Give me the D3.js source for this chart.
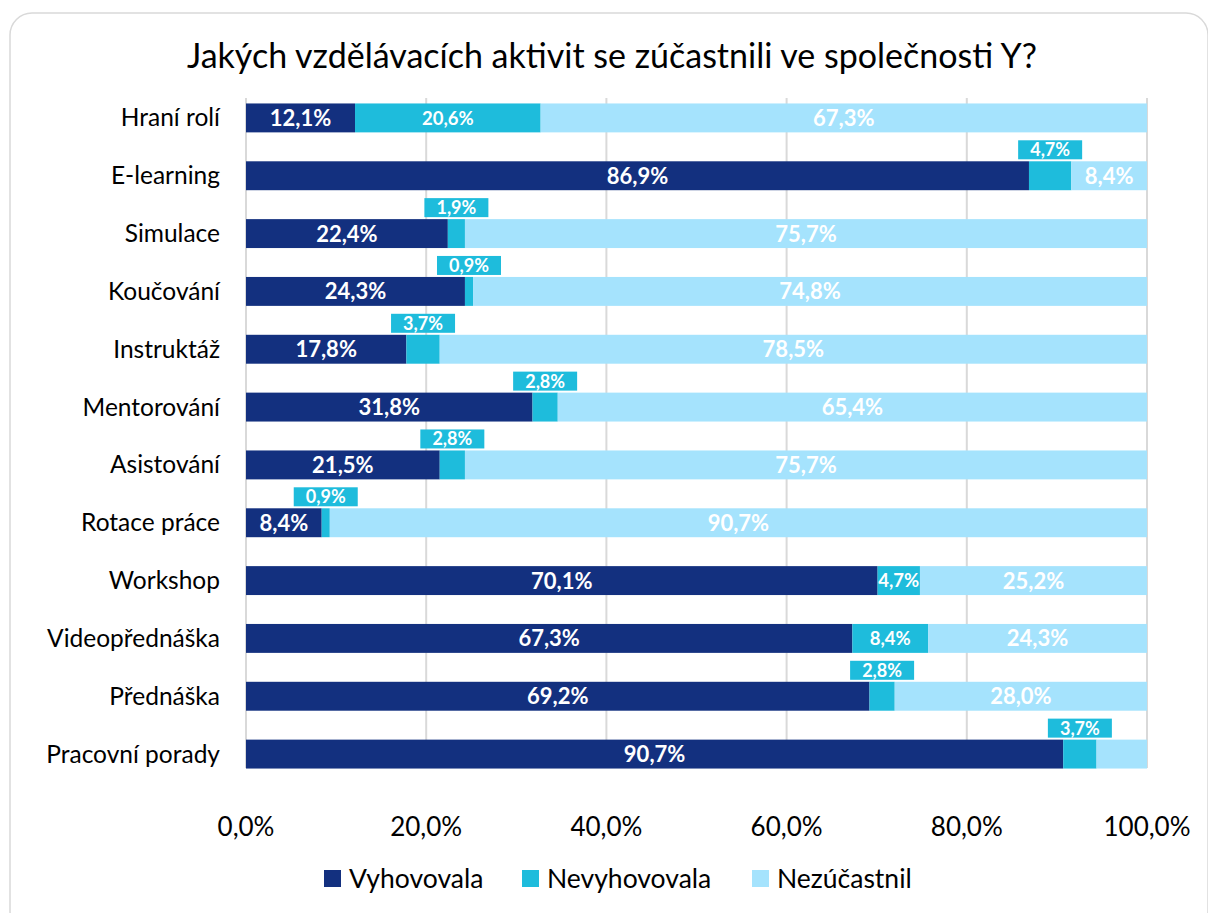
<!DOCTYPE html>
<html>
<head>
<meta charset="utf-8">
<script src="https://cdn.jsdelivr.net/npm/d3@7"></script>
<style>
  body { margin: 0; background: #fff; }
  svg { font-family: Lato, "Open Sans", sans-serif; }
</style>
</head>
<body>
<svg id="chart" width="1208" height="913"></svg>
<script>
// data
const categories = ["Hraní rolí", "E-learning", "Simulace", "Koučování", "Instruktáž", "Mentorování",
  "Asistování", "Rotace práce", "Workshop", "Videopřednáška", "Přednáška", "Pracovní porady"];
const vyhovovala   = [12.1, 86.9, 22.4, 24.3, 17.8, 31.8, 21.5, 8.4, 70.1, 67.3, 69.2, 90.7];
const nevyhovovala = [20.6, 4.7, 1.9, 0.9, 3.7, 2.8, 2.8, 0.9, 4.7, 8.4, 2.8, 3.7];
const nezucastnil  = [67.3, 8.4, 75.7, 74.8, 78.5, 65.4, 75.7, 90.7, 25.2, 24.3, 28.0, 5.6];
// rows where the Nevyhovovala label sits in a box above the bar
const calloutRows = ["E-learning", "Simulace", "Koučování", "Instruktáž", "Mentorování",
  "Asistování", "Rotace práce", "Přednáška", "Pracovní porady"];
// rows where the Nezúčastnil value is not labelled
const hiddenLight = ["Pracovní porady"];
const xTicks = [0, 20, 40, 60, 80, 100];
const seriesNames = ["Vyhovovala", "Nevyhovovala", "Nezúčastnil"];
const colors = ["#13307f", "#1ebcdc", "#a5e3fd"];

const svg = d3.select("#chart");
const W = 1208, H = 913;
const margin = {left: 246, right: 61};

svg.append("rect")
  .attr("x", 10).attr("y", 13)
  .attr("width", W - 10).attr("height", H - 13 + 20)
  .attr("rx", 22)
  .attr("fill", "#fff")
  .attr("stroke", "#d9d9d9").attr("stroke-width", 1.5);

svg.append("text")
  .attr("x", 612).attr("y", 68)
  .attr("text-anchor", "middle")
  .attr("font-size", 34)
  .attr("fill", "#000")
  .text("Jakých vzdělávacích aktivit se zúčastnili ve společnosti Y?");

const x = d3.scaleLinear().domain([0, 100]).range([margin.left, W - margin.right]);
const y = d3.scaleBand().domain(categories)
  .range([89, 783]).paddingInner(0.5).paddingOuter(0.25);

const fmt = v => d3.format(".1f")(v).replace(".", ",") + "%";

// grid lines
svg.append("g").selectAll("line").data(xTicks).join("line")
  .attr("x1", d => x(d)).attr("x2", d => x(d))
  .attr("y1", 98).attr("y2", 768)
  .attr("stroke", "#d9d9d9").attr("stroke-width", 2);

// axis labels
svg.append("g").selectAll("text").data(xTicks).join("text")
  .attr("x", d => x(d)).attr("y", 836)
  .attr("text-anchor", "middle")
  .attr("font-size", 26)
  .attr("fill", "#000")
  .text(d => fmt(d));

const stackData = categories.map((c, i) => ({cat: c, s0: vyhovovala[i], s1: nevyhovovala[i], s2: nezucastnil[i]}));
const stack = d3.stack().keys(["s0", "s1", "s2"])(stackData);

const layers = svg.append("g").selectAll("g").data(stack).join("g")
  .attr("fill", (d, i) => colors[i]);

layers.selectAll("rect").data(d => d).join("rect")
  .attr("x", d => x(d[0]))
  .attr("y", d => y(d.data.cat))
  .attr("width", d => x(d[1]) - x(d[0]))
  .attr("height", y.bandwidth());

// category labels
svg.append("g").selectAll("text").data(categories).join("text")
  .attr("x", 220)
  .attr("y", d => y(d) + y.bandwidth() / 2)
  .attr("dy", "0.35em")
  .attr("text-anchor", "end")
  .attr("font-size", 24.5)
  .attr("fill", "#000")
  .text(d => d);

// value labels
const lg = svg.append("g");
stack.forEach((layer, si) => {
  layer.forEach(d => {
    const cat = d.data.cat;
    const v = d[1] - d[0];
    if (si === 2 && hiddenLight.includes(cat)) return;
    const cx = (x(d[0]) + x(d[1])) / 2;
    const cy = y(cat) + y.bandwidth() / 2;
    if (si === 1 && calloutRows.includes(cat)) {
      const bw = 64, bh = 19;
      lg.append("rect")
        .attr("x", cx - bw / 2).attr("y", y(cat) - bh - 2)
        .attr("width", bw).attr("height", bh)
        .attr("fill", colors[1]);
      lg.append("text")
        .attr("x", cx).attr("y", y(cat) - 2 - bh / 2)
        .attr("dy", "0.36em")
        .attr("text-anchor", "middle")
        .attr("font-size", 18).attr("font-weight", "bold")
        .attr("fill", "#fff")
        .text(fmt(v));
    } else {
      lg.append("text")
        .attr("x", cx).attr("y", cy)
        .attr("dy", "0.36em")
        .attr("text-anchor", "middle")
        .attr("font-size", si === 1 ? 18.5 : 22).attr("font-weight", "bold")
        .attr("fill", "#fff")
        .text(fmt(v));
    }
  });
});

// legend
const legendX = [324, 522, 752];
const leg = svg.append("g").selectAll("g").data(seriesNames).join("g")
  .attr("transform", (d, i) => `translate(${legendX[i]},878)`);
leg.append("rect").attr("x", 0).attr("y", -8).attr("width", 17).attr("height", 17)
  .attr("fill", (d, i) => colors[i]);
leg.append("text").attr("x", 25).attr("y", 1).attr("dy", "0.35em")
  .attr("font-size", 26.5).attr("fill", "#000")
  .text(d => d);
</script>
</body>
</html>
